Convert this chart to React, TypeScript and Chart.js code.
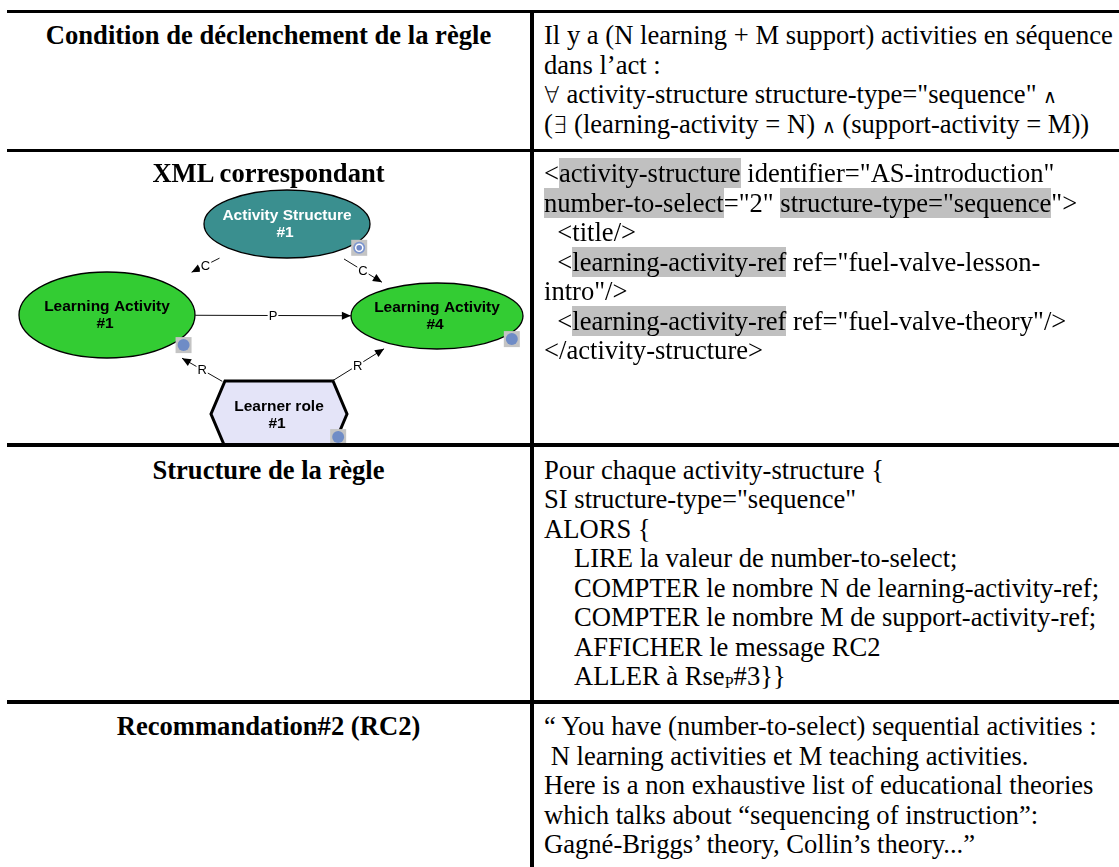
import React, { useEffect, useRef } from "react";
import { Chart, registerables } from "chart.js";

Chart.register(...registerables);

// ---------- DATA ----------
const rowHeaders = [
  "Condition de déclenchement de la règle",
  "XML correspondant",
  "Structure de la règle",
  "Recommandation#2 (RC2)",
];

type Seg = { t: string; hl?: boolean; sub?: boolean; sym?: boolean; small?: boolean };

const conditionLines: Seg[][] = [
  [{ t: "Il y a (N learning + M support) activities en séquence" }],
  [{ t: "dans l\u2019act :" }],
  [{ t: "\u2200", sym: true }, { t: " activity-structure structure-type=\"sequence\" " }, { t: "\u2227", sym: true, small: true }],
  [
    { t: "(" },
    { t: "\u2203", sym: true },
    { t: " (learning-activity = N) " },
    { t: "\u2227", sym: true, small: true },
    { t: " (support-activity = M))" },
  ],
];

const xmlLines: Seg[][] = [
  [{ t: "<" }, { t: "activity-structure", hl: true }, { t: " identifier=\"AS-introduction\"" }],
  [{ t: "number-to-select", hl: true }, { t: "=\"2\" " }, { t: "structure-type=\"sequence", hl: true }, { t: "\">" }],
  [{ t: "  <title/>" }],
  [{ t: "  <" }, { t: "learning-activity-ref", hl: true }, { t: " ref=\"fuel-valve-lesson-" }],
  [{ t: "intro\"/>" }],
  [{ t: "  <" }, { t: "learning-activity-ref", hl: true }, { t: " ref=\"fuel-valve-theory\"/>" }],
  [{ t: "</activity-structure>" }],
];

const ruleLines: Seg[][] = [
  [{ t: "Pour chaque activity-structure {" }],
  [{ t: "SI structure-type=\"sequence\"" }],
  [{ t: "ALORS {" }],
  [{ t: "LIRE la valeur de number-to-select;" }],
  [{ t: "COMPTER le nombre N de learning-activity-ref;" }],
  [{ t: "COMPTER le nombre M de support-activity-ref;" }],
  [{ t: "AFFICHER le message RC2" }],
  [{ t: "ALLER \u00e0 Rse" }, { t: "P", sub: true }, { t: "#3}}" }],
];
const ruleIndented = [false, false, false, true, true, true, true, true];

const recommendationLines = [
  "\u201c You have (number-to-select) sequential activities :",
  " N learning activities et M teaching activities.",
  "Here is a non exhaustive list of educational theories",
  "which talks about \u201csequencing of instruction\u201d:",
  "Gagn\u00e9-Briggs\u2019 theory, Collin\u2019s theory...\u201d",
];

// diagram nodes (diagram units)
const nodeNames = ["Activity Structure", "Learning Activity", "Learning Activity", "Learner role"];
const nodeNumbers = ["#1", "#1", "#4", "#1"];
const nodeKinds = ["structure", "activity", "activity", "role"];
const nodeX = [280, 100, 430, 272];
const nodeY = [39, 130, 131, 229];

// diagram edges
const edgeFrom = [0, 0, 1, 3, 3];
const edgeTo = [1, 2, 2, 1, 2];
const edgeLabels = ["C", "C", "P", "R", "R"];

// ---------- STYLE ----------
const NODE_SIZE = [
  [83, 34],
  [88, 43],
  [86, 33],
  [68, 33],
];
const EDGE_TRIM = [
  [0.375, 0.53],
  [0.38, 0.633],
  [0.267, 0.739],
  [0.33, 0.564],
  [0.33, 0.665],
];
const KIND_FILL: Record<string, string> = {
  structure: "#3A8F8F",
  activity: "#33CC33",
  role: "#E4E4F8",
};
const KIND_TEXT: Record<string, string> = {
  structure: "#FFFFFF",
  activity: "#000000",
  role: "#000000",
};

const SERIF = "'Liberation Serif', 'DejaVu Serif', 'Times New Roman', serif";
const SANS = "'Liberation Sans', Arial, sans-serif";
const FONT = 26.6;
const LH = 29.5;
const HL = "#C0C0C0";

const CANVAS_LEFT = 7;
const CANVAS_TOP = 185;
const CANVAS_W = 524;
const CANVAS_H = 262;

const diagramPlugin = {
  id: "diagram",
  afterDatasetsDraw(chart: any) {
    const ctx: CanvasRenderingContext2D = chart.ctx;
    const xs = chart.scales.x;
    const ys = chart.scales.y;
    const px = (i: number) => xs.getPixelForValue(nodeX[i]);
    const py = (i: number) => ys.getPixelForValue(nodeY[i]);
    ctx.save();

    // nodes
    nodeKinds.forEach((kind, i) => {
      const cx = px(i);
      const cy = py(i);
      const [rx, ry] = NODE_SIZE[i];
      ctx.beginPath();
      if (kind === "role") {
        const inset = 14;
        ctx.moveTo(cx - rx + inset, cy - ry);
        ctx.lineTo(cx + rx - inset, cy - ry);
        ctx.lineTo(cx + rx, cy);
        ctx.lineTo(cx + rx - inset, cy + ry);
        ctx.lineTo(cx - rx + inset, cy + ry);
        ctx.lineTo(cx - rx, cy);
        ctx.closePath();
        ctx.fillStyle = KIND_FILL[kind];
        ctx.fill();
        ctx.lineWidth = 3;
        ctx.lineJoin = "miter";
        ctx.strokeStyle = "#000";
        ctx.stroke();
      } else {
        ctx.ellipse(cx, cy, rx, ry, 0, 0, Math.PI * 2);
        ctx.fillStyle = KIND_FILL[kind];
        ctx.fill();
        ctx.lineWidth = 1.3;
        ctx.strokeStyle = "#000";
        ctx.stroke();
      }
      // labels
      ctx.fillStyle = KIND_TEXT[kind];
      ctx.font = `bold 15.5px ${SANS}`;
      ctx.textAlign = "center";
      ctx.textBaseline = "middle";
      const dy = kind === "role" ? -7 : -8;
      ctx.fillText(nodeNames[i], cx, cy + dy);
      ctx.fillText(nodeNumbers[i], cx - 2, cy + dy + 17);

      // small icon
      const ix = cx + 0.87 * rx;
      const iy = cy + 0.7 * ry;
      ctx.fillStyle = "#C4C4C4";
      ctx.fillRect(ix - 8, iy - 8, 16, 16);
      if (kind === "structure") {
        ctx.beginPath();
        ctx.arc(ix, iy, 6, 0, Math.PI * 2);
        ctx.fillStyle = "#7D96CF";
        ctx.fill();
        ctx.beginPath();
        ctx.arc(ix, iy, 4.3, 0, Math.PI * 2);
        ctx.fillStyle = "#FFFFFF";
        ctx.fill();
        ctx.beginPath();
        ctx.arc(ix, iy, 2.8, 0, Math.PI * 2);
        ctx.fillStyle = "#6F88C6";
        ctx.fill();
      } else {
        ctx.beginPath();
        ctx.arc(ix, iy, 6, 0, Math.PI * 2);
        ctx.fillStyle = "#6F8CC6";
        ctx.fill();
      }
    });

    // edges
    edgeFrom.forEach((f, k) => {
      const t = edgeTo[k];
      const x1 = px(f), y1 = py(f), x2 = px(t), y2 = py(t);
      const [a, b] = EDGE_TRIM[k];
      const sx = x1 + (x2 - x1) * a;
      const sy = y1 + (y2 - y1) * a;
      const ex = x1 + (x2 - x1) * b;
      const ey = y1 + (y2 - y1) * b;
      ctx.beginPath();
      ctx.moveTo(sx, sy);
      ctx.lineTo(ex, ey);
      ctx.lineWidth = 1;
      ctx.strokeStyle = "#111";
      ctx.stroke();
      // arrow head
      const ang = Math.atan2(ey - sy, ex - sx);
      const L = 9, W = 4;
      ctx.beginPath();
      ctx.moveTo(ex, ey);
      ctx.lineTo(ex - L * Math.cos(ang) + W * Math.sin(ang), ey - L * Math.sin(ang) - W * Math.cos(ang));
      ctx.lineTo(ex - L * Math.cos(ang) - W * Math.sin(ang), ey - L * Math.sin(ang) + W * Math.cos(ang));
      ctx.closePath();
      ctx.fillStyle = "#000";
      ctx.fill();
      // label
      const mx = (sx + ex) / 2;
      const my = (sy + ey) / 2;
      ctx.font = `13px ${SANS}`;
      const w = ctx.measureText(edgeLabels[k]).width;
      ctx.fillStyle = "#FFFFFF";
      ctx.fillRect(mx - w / 2 - 1, my - 7, w + 2, 14);
      ctx.fillStyle = "#000";
      ctx.textAlign = "center";
      ctx.textBaseline = "middle";
      ctx.fillText(edgeLabels[k], mx, my + 1);
    });

    ctx.restore();
  },
};

function Diagram() {
  const ref = useRef<HTMLCanvasElement | null>(null);
  useEffect(() => {
    if (!ref.current) return;
    const chart = new Chart(ref.current, {
      type: "scatter",
      data: {
        datasets: [
          {
            data: nodeX.map((x, i) => ({ x, y: nodeY[i] })),
            pointRadius: 0,
            pointHoverRadius: 0,
          },
        ],
      },
      options: {
        animation: false,
        responsive: false,
        devicePixelRatio: 1,
        layout: { padding: 0 },
        events: [],
        plugins: { legend: { display: false }, tooltip: { enabled: false }, title: { display: false } },
        scales: {
          x: { type: "linear", min: 0, max: CANVAS_W, display: false },
          y: { type: "linear", min: 0, max: CANVAS_H, reverse: true, display: false },
        },
      },
      plugins: [diagramPlugin],
    } as any);
    return () => chart.destroy();
  }, []);
  return (
    <canvas
      ref={ref}
      width={CANVAS_W}
      height={CANVAS_H}
      style={{ position: "absolute", left: CANVAS_LEFT, top: CANVAS_TOP, width: CANVAS_W, height: CANVAS_H }}
    />
  );
}

function segStyle(s: Seg): React.CSSProperties | undefined {
  if (s.sub) return { fontSize: 16, verticalAlign: "-3px" };
  if (s.sym)
    return {
      fontFamily: "'DejaVu Sans', sans-serif",
      fontWeight: 200,
      fontSize: s.small ? 19 : 23,
    };
  if (s.hl) return { background: HL };
  return undefined;
}

function SegLine({ segs, top, left }: { segs: Seg[]; top: number; left: number }) {
  return (
    <div style={{ position: "absolute", left, top, whiteSpace: "pre", fontSize: FONT, lineHeight: `${LH}px` }}>
      {segs.map((s, i) => (
        <span key={i} style={segStyle(s)}>
          {s.t}
        </span>
      ))}
    </div>
  );
}

const ROW_TOPS = [21, 159, 455.5, 712];
const HLINES = [
  [10, 3],
  [149, 3],
  [443, 4],
  [700, 4],
];
const TEXT_LEFT = 544;

export default function App() {
  return (
    <div
      style={{
        position: "absolute",
        left: 0,
        top: 0,
        width: 1119,
        height: 867,
        overflow: "hidden",
        background: "#fff",
        fontFamily: SERIF,
        color: "#000",
      }}
    >
      <Diagram />
      {HLINES.map(([t, h], i) => (
        <div key={"h" + i} style={{ position: "absolute", left: 7, top: t, width: 1112, height: h, background: "#000", zIndex: 2 }} />
      ))}
      <div style={{ position: "absolute", left: 530, top: 10, width: 4, height: 857, background: "#000", zIndex: 2 }} />

      {rowHeaders.map((h, i) => (
        <div
          key={"rh" + i}
          style={{
            position: "absolute",
            left: 7,
            width: 523,
            top: ROW_TOPS[i],
            textAlign: "center",
            fontWeight: "bold",
            fontSize: FONT,
            lineHeight: `${LH}px`,
            whiteSpace: "pre",
          }}
        >
          {h}
        </div>
      ))}

      {conditionLines.map((l, i) => (
        <SegLine key={"c" + i} segs={l} top={ROW_TOPS[0] + i * LH} left={TEXT_LEFT} />
      ))}
      {xmlLines.map((l, i) => (
        <SegLine key={"x" + i} segs={l} top={ROW_TOPS[1] + i * LH} left={TEXT_LEFT} />
      ))}
      {ruleLines.map((l, i) => (
        <SegLine key={"r" + i} segs={l} top={ROW_TOPS[2] + i * LH} left={TEXT_LEFT + (ruleIndented[i] ? 30 : 0)} />
      ))}
      {recommendationLines.map((l, i) => (
        <SegLine key={"m" + i} segs={[{ t: l }]} top={ROW_TOPS[3] + i * LH} left={TEXT_LEFT} />
      ))}
    </div>
  );
}
